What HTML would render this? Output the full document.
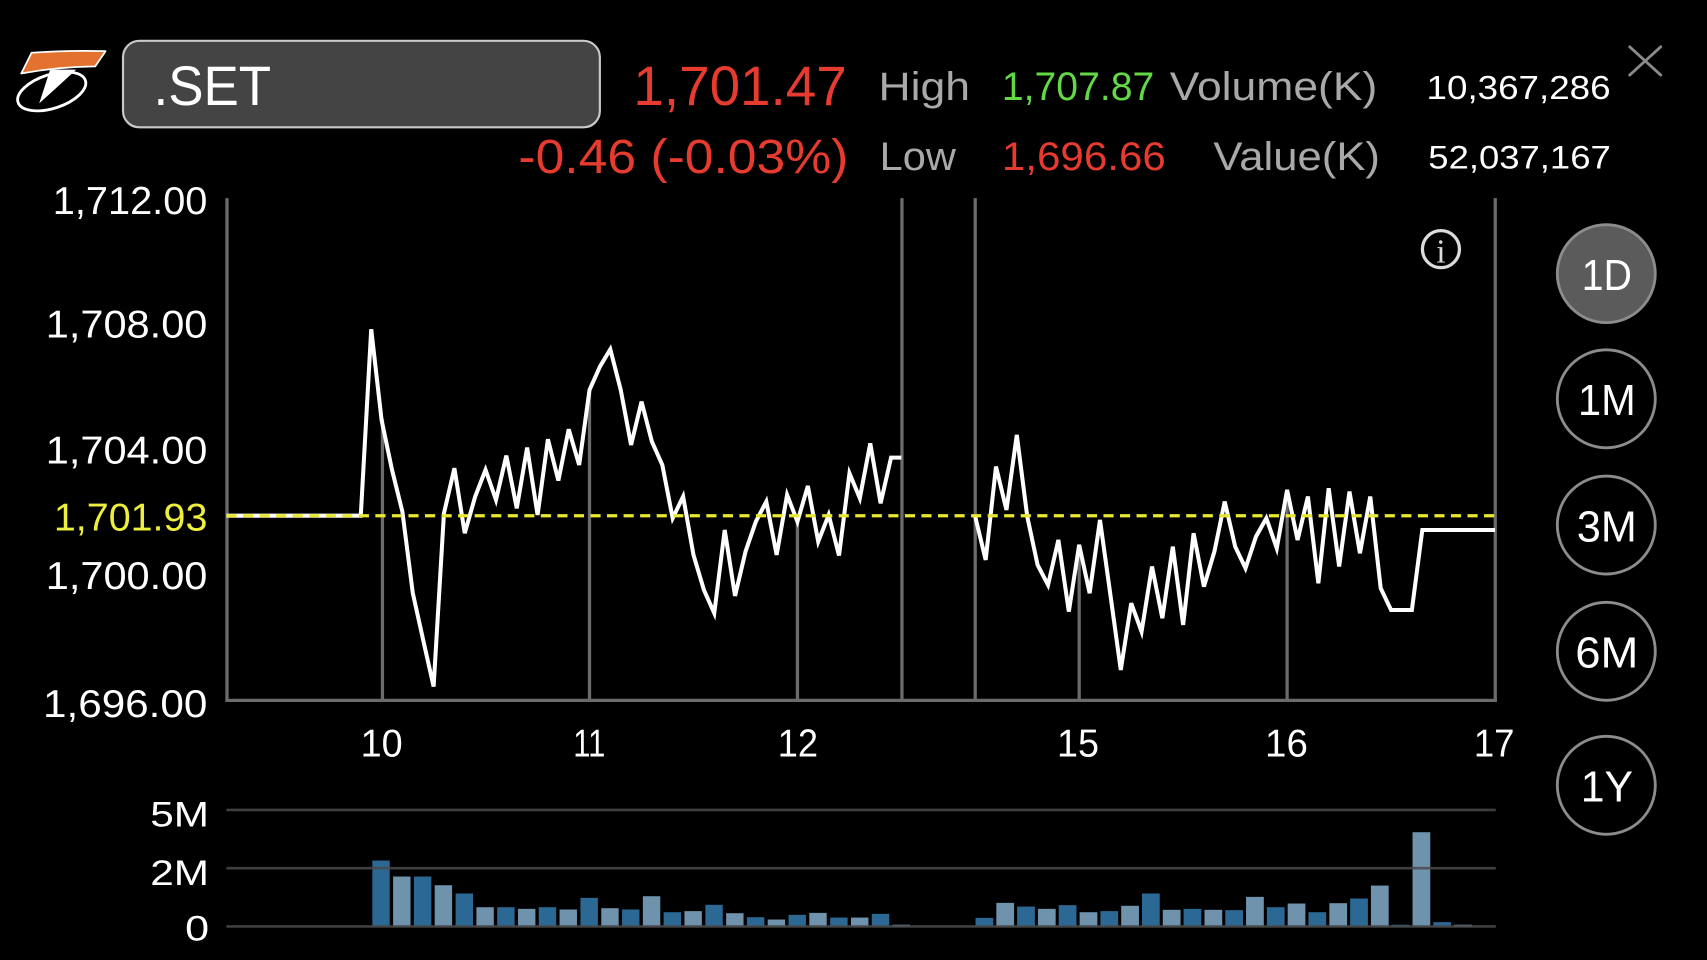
<!DOCTYPE html>
<html>
<head>
<meta charset="utf-8">
<style>
  html, body { margin:0; padding:0; background:#000; }
  body { width:1707px; height:960px; overflow:hidden; }
  svg { display:block; }
  text { font-family: "Liberation Sans", "DejaVu Sans", sans-serif; }
</style>
</head>
<body>
<svg width="1707" height="960" viewBox="0 0 1568 882" preserveAspectRatio="none" xmlns="http://www.w3.org/2000/svg">
  <rect x="0" y="0" width="1568" height="882" fill="#000"/>

  <!-- Logo -->
  <g>
    <ellipse cx="47.5" cy="84" rx="32.5" ry="15.5" transform="rotate(-18 47.5 84)" fill="#000" stroke="#fff" stroke-width="2.6"/>
    <path d="M46,64 L70,64 Q56,77 36,95 Q41,80 46,64 Z" fill="#fff"/>
    <path d="M29,48.5 Q62,46 97,47 L87.5,61 Q52,61.5 19.5,67.5 Z" fill="#e4722f" stroke="#fff" stroke-width="1.6" stroke-linejoin="round"/>
  </g>

  <!-- Symbol box -->
  <rect x="113" y="37.5" width="438" height="79.5" rx="15" ry="15" fill="#444" stroke="#c9c9c9" stroke-width="2"/>
  <text x="141" y="96.5" font-size="51" fill="#fff" textLength="108" lengthAdjust="spacingAndGlyphs">.SET</text>

  <!-- Price -->
  <text x="581.8" y="96.5" font-size="51" fill="#e63b2e" textLength="196" lengthAdjust="spacingAndGlyphs">1,701.47</text>
  <text x="476.2" y="159" font-size="44" fill="#e63b2e" textLength="303" lengthAdjust="spacingAndGlyphs">-0.46 (-0.03%)</text>

  <!-- High / Low / Volume / Value -->
  <text x="807" y="91.9" font-size="37" fill="#a9a9a9" textLength="84" lengthAdjust="spacingAndGlyphs">High</text>
  <text x="920.3" y="91.9" font-size="37" fill="#62d944" textLength="140" lengthAdjust="spacingAndGlyphs">1,707.87</text>
  <text x="1074.5" y="91.9" font-size="37" fill="#a9a9a9" textLength="190.7" lengthAdjust="spacingAndGlyphs">Volume(K)</text>
  <text x="1310.4" y="90.9" font-size="31" fill="#fff" textLength="169" lengthAdjust="spacingAndGlyphs">10,367,286</text>

  <text x="808" y="156" font-size="37" fill="#a9a9a9" textLength="70" lengthAdjust="spacingAndGlyphs">Low</text>
  <text x="920.3" y="156.2" font-size="37" fill="#e63b2e" textLength="150.6" lengthAdjust="spacingAndGlyphs">1,696.66</text>
  <text x="1114.6" y="156" font-size="37" fill="#a9a9a9" textLength="153" lengthAdjust="spacingAndGlyphs">Value(K)</text>
  <text x="1312" y="154.6" font-size="30" fill="#fff" textLength="167.6" lengthAdjust="spacingAndGlyphs">52,037,167</text>

  <!-- Close X -->
  <g stroke="#8a8a8a" stroke-width="2.6" stroke-linecap="round">
    <line x1="1497" y1="43" x2="1525.5" y2="69"/>
    <line x1="1525.5" y1="43" x2="1497" y2="69"/>
  </g>

  <!-- Y axis labels -->
  <g font-size="36" fill="#fff" text-anchor="end">
    <text x="190.5" y="196.4" textLength="142" lengthAdjust="spacingAndGlyphs">1,712.00</text>
    <text x="190.5" y="310.2" textLength="148.5" lengthAdjust="spacingAndGlyphs">1,708.00</text>
    <text x="190.5" y="426" textLength="148.5" lengthAdjust="spacingAndGlyphs">1,704.00</text>
    <text x="190.5" y="487.5" textLength="141" lengthAdjust="spacingAndGlyphs" fill="#eeee3c">1,701.93</text>
    <text x="190.5" y="541.2" textLength="148.5" lengthAdjust="spacingAndGlyphs">1,700.00</text>
    <text x="190.5" y="658.8" textLength="151" lengthAdjust="spacingAndGlyphs">1,696.00</text>
  </g>

  <!-- Axes & full-height lines -->
  <g stroke="#6b6b6b" stroke-width="3" fill="none">
    <line x1="208.5" y1="182" x2="208.5" y2="645"/>
    <line x1="1373.5" y1="182" x2="1373.5" y2="645"/>
    <line x1="828.5" y1="182" x2="828.5" y2="645"/>
    <line x1="895.8" y1="182" x2="895.8" y2="645"/>
    <line x1="207" y1="643.5" x2="1375" y2="643.5"/>
    <!-- drop lines -->
    <line x1="351.3" y1="385" x2="351.3" y2="643"/>
    <line x1="541.5" y1="358" x2="541.5" y2="643"/>
    <line x1="732.5" y1="479" x2="732.5" y2="643"/>
    <line x1="991.3" y1="500" x2="991.3" y2="643"/>
    <line x1="1182.3" y1="450" x2="1182.3" y2="643"/>
  </g>

  <!-- Price line -->
  <polyline fill="none" stroke="#fff" stroke-width="3.7" stroke-linejoin="miter" stroke-miterlimit="4"
    points="208,473.8 331.4,473.8 341.0,302.5 350.5,385.8 360.1,431.7 369.6,470.0 379.2,545.0 388.7,587.9 398.3,630.8 407.8,471.6 417.4,430.2 426.9,489.9 436.5,456.2 446.0,431.7 455.6,459.3 465.1,418.6 474.7,467.0 484.2,411.2 493.8,473.1 503.3,403.6 512.9,441.5 522.4,394.4 532.0,427.2 541.5,358.3 551.1,336.8 560.6,320.9 570.2,358.3 579.7,408.8 589.3,369.0 598.8,405.7 608.4,427.2 617.9,476.1 627.5,456.2 637.0,509.8 646.6,542.0 656.1,563.4 665.7,486.9 675.2,547.5 684.8,506.8 694.3,479.2 703.9,460.8 713.4,509.8 723.0,454.7 732.5,479.2 742.1,446.5 751.6,497.6 761.2,473.1 770.7,510.4 780.3,434.8 789.8,457.8 799.4,407.3 808.9,462.4 818.5,420.4 828.0,420.4"/>
  <polyline fill="none" stroke="#fff" stroke-width="3.7" stroke-linejoin="miter" stroke-miterlimit="4"
    points="895.8,474.6 905.4,514.4 914.9,428.7 924.5,468.5 934.0,399.6 943.6,474.6 953.1,519.0 962.7,537.4 972.2,496.1 981.8,561.9 991.3,500.6 1000.9,545.0 1010.4,477.7 1020.0,546.6 1029.5,615.5 1039.1,554.2 1048.6,580.3 1058.2,520.5 1067.7,568.0 1077.3,502.2 1086.8,574.1 1096.4,489.9 1105.9,538.9 1115.5,506.8 1125.0,460.8 1134.6,502.2 1144.1,522.1 1153.7,493.0 1163.2,476.1 1172.8,503.7 1182.3,450.1 1191.9,496.1 1201.4,456.2 1211.0,535.9 1220.5,448.6 1230.1,520.5 1239.6,451.6 1249.2,508.3 1258.7,456.2 1268.3,540.5 1277.8,560.4 1287.4,560.4 1296.9,560.4 1306.5,486.9 1373.3,486.9"/>

  <!-- Prev close dashed line -->
  <line x1="208" y1="473.8" x2="1373" y2="473.8" stroke="#e8e833" stroke-width="3" stroke-dasharray="9.3 5.9"/>

  <!-- Info icon -->
  <circle cx="1323.6" cy="228.9" r="17" fill="none" stroke="#dcdcdc" stroke-width="3"/>
  <text x="1323.6" y="241" font-size="31" fill="#dcdcdc" text-anchor="middle" style="font-family:'Liberation Serif','DejaVu Serif',serif;">i</text>

  <!-- X axis labels -->
  <g font-size="36" fill="#fff" text-anchor="middle">
    <text x="350.6" y="695" textLength="38.6" lengthAdjust="spacingAndGlyphs">10</text>
    <text x="541.3" y="695" textLength="29.5" lengthAdjust="spacingAndGlyphs">11</text>
    <text x="732.9" y="695" textLength="37" lengthAdjust="spacingAndGlyphs">12</text>
    <text x="990.2" y="695" textLength="38.6" lengthAdjust="spacingAndGlyphs">15</text>
    <text x="1181.7" y="695" textLength="39.3" lengthAdjust="spacingAndGlyphs">16</text>
    <text x="1372.5" y="695" textLength="37.3" lengthAdjust="spacingAndGlyphs">17</text>
  </g>

  <!-- Period buttons -->
  <g stroke="#8c8c8c" stroke-width="2.6">
    <circle cx="1475.5" cy="251.4" r="45" fill="#5b5b5b"/>
    <circle cx="1475.5" cy="366.4" r="45" fill="#000"/>
    <circle cx="1475.5" cy="482.4" r="45" fill="#000"/>
    <circle cx="1475.5" cy="598.4" r="45" fill="#000"/>
    <circle cx="1475.5" cy="721.5" r="45" fill="#000"/>
  </g>
  <g font-size="40" fill="#fff" text-anchor="middle">
    <text x="1476" y="266.5" textLength="46" lengthAdjust="spacingAndGlyphs">1D</text>
    <text x="1476" y="381.5" textLength="53" lengthAdjust="spacingAndGlyphs">1M</text>
    <text x="1476" y="497.5" textLength="55" lengthAdjust="spacingAndGlyphs">3M</text>
    <text x="1476" y="613.5" textLength="58" lengthAdjust="spacingAndGlyphs">6M</text>
    <text x="1476" y="736.5" textLength="48" lengthAdjust="spacingAndGlyphs">1Y</text>
  </g>

  <!-- Volume labels -->
  <g font-size="32" fill="#fff" text-anchor="end">
    <text x="192" y="759.4" textLength="54" lengthAdjust="spacingAndGlyphs">5M</text>
    <text x="192" y="813" textLength="54" lengthAdjust="spacingAndGlyphs">2M</text>
    <text x="192" y="864" textLength="22" lengthAdjust="spacingAndGlyphs">0</text>
  </g>

  <!-- Volume bars: morning -->
  <g>
    <rect x="342.0" y="790.6" width="16" height="60.6" fill="#2c6894"/>
    <rect x="361.1" y="805.3" width="16" height="45.9" fill="#6f93ad"/>
    <rect x="380.2" y="805.3" width="16" height="45.9" fill="#2c6894"/>
    <rect x="399.3" y="813.3" width="16" height="37.9" fill="#6f93ad"/>
    <rect x="418.5" y="820.9" width="16" height="30.3" fill="#2c6894"/>
    <rect x="437.6" y="833.5" width="16" height="17.7" fill="#6f93ad"/>
    <rect x="456.7" y="833.5" width="16" height="17.7" fill="#2c6894"/>
    <rect x="475.8" y="835.0" width="16" height="16.2" fill="#6f93ad"/>
    <rect x="494.9" y="833.5" width="16" height="17.7" fill="#2c6894"/>
    <rect x="514.0" y="835.6" width="16" height="15.6" fill="#6f93ad"/>
    <rect x="533.2" y="824.9" width="16" height="26.3" fill="#2c6894"/>
    <rect x="552.3" y="834.4" width="16" height="16.8" fill="#6f93ad"/>
    <rect x="571.4" y="835.6" width="16" height="15.6" fill="#2c6894"/>
    <rect x="590.5" y="823.4" width="16" height="27.8" fill="#6f93ad"/>
    <rect x="609.6" y="838.1" width="16" height="13.1" fill="#2c6894"/>
    <rect x="628.7" y="837.1" width="16" height="14.1" fill="#6f93ad"/>
    <rect x="647.9" y="831.3" width="16" height="19.9" fill="#2c6894"/>
    <rect x="667.0" y="839.0" width="16" height="12.2" fill="#6f93ad"/>
    <rect x="686.1" y="842.7" width="16" height="8.5" fill="#2c6894"/>
    <rect x="705.2" y="844.8" width="16" height="6.4" fill="#6f93ad"/>
    <rect x="724.3" y="840.5" width="16" height="10.7" fill="#2c6894"/>
    <rect x="743.4" y="838.7" width="16" height="12.5" fill="#6f93ad"/>
    <rect x="762.6" y="843.0" width="16" height="8.2" fill="#2c6894"/>
    <rect x="781.7" y="843.0" width="16" height="8.2" fill="#6f93ad"/>
    <rect x="800.8" y="839.6" width="16" height="11.6" fill="#2c6894"/>
    <rect x="819.9" y="849.6" width="16" height="1.6" fill="#6f93ad"/>
  </g>
  <!-- Volume bars: afternoon -->
  <g>
    <rect x="896.1" y="843.3" width="16.3" height="7.9" fill="#2c6894"/>
    <rect x="915.2" y="829.5" width="16.3" height="21.7" fill="#6f93ad"/>
    <rect x="934.3" y="832.9" width="16.3" height="18.3" fill="#2c6894"/>
    <rect x="953.4" y="835.0" width="16.3" height="16.2" fill="#6f93ad"/>
    <rect x="972.5" y="831.6" width="16.3" height="19.6" fill="#2c6894"/>
    <rect x="991.7" y="838.1" width="16.3" height="13.1" fill="#6f93ad"/>
    <rect x="1010.8" y="837.1" width="16.3" height="14.1" fill="#2c6894"/>
    <rect x="1029.9" y="832.2" width="16.3" height="19.0" fill="#6f93ad"/>
    <rect x="1049.0" y="820.9" width="16.3" height="30.3" fill="#2c6894"/>
    <rect x="1068.1" y="835.9" width="16.3" height="15.3" fill="#6f93ad"/>
    <rect x="1087.2" y="835.0" width="16.3" height="16.2" fill="#2c6894"/>
    <rect x="1106.4" y="835.9" width="16.3" height="15.3" fill="#6f93ad"/>
    <rect x="1125.5" y="836.2" width="16.3" height="15.0" fill="#2c6894"/>
    <rect x="1144.6" y="824.0" width="16.3" height="27.2" fill="#6f93ad"/>
    <rect x="1163.7" y="833.5" width="16.3" height="17.7" fill="#2c6894"/>
    <rect x="1182.8" y="830.1" width="16.3" height="21.1" fill="#6f93ad"/>
    <rect x="1201.9" y="838.1" width="16.3" height="13.1" fill="#2c6894"/>
    <rect x="1221.1" y="829.8" width="16.3" height="21.4" fill="#6f93ad"/>
    <rect x="1240.2" y="825.5" width="16.3" height="25.7" fill="#2c6894"/>
    <rect x="1259.3" y="813.6" width="16.3" height="37.6" fill="#6f93ad"/>
    <rect x="1278.4" y="849.6" width="16.3" height="1.6" fill="#2c6894"/>
    <rect x="1297.5" y="764.6" width="16.3" height="86.6" fill="#6f93ad"/>
    <rect x="1316.6" y="847.2" width="16.3" height="4.0" fill="#2c6894"/>
    <rect x="1335.8" y="849.6" width="16.3" height="1.6" fill="#6f93ad"/>
  </g>

  <!-- Volume gridlines -->
  <g stroke="#4a4a4a" stroke-width="2.4" stroke-opacity="0.85">
    <line x1="208" y1="744.1" x2="1374" y2="744.1"/>
    <line x1="208" y1="797.6" x2="1374" y2="797.6"/>
    <line x1="208" y1="851.2" x2="1374" y2="851.2"/>
  </g>
</svg>
</body>
</html>
